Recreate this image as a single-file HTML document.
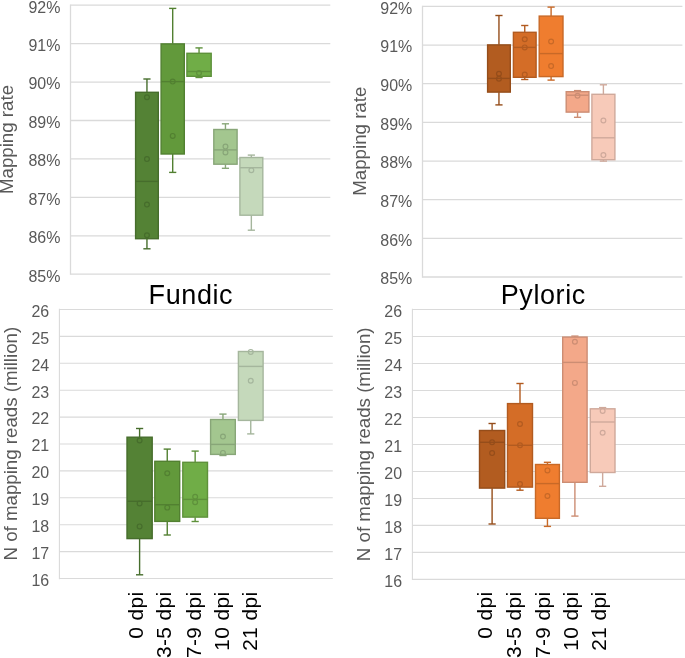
<!DOCTYPE html>
<html><head><meta charset="utf-8"><style>
html,body{margin:0;padding:0;background:#fff;}
svg{display:block;font-family:"Liberation Sans", sans-serif;will-change:transform;}
</style></head><body>
<svg width="685" height="658" viewBox="0 0 685 658">
<rect width="685" height="658" fill="#fff"/>
<line x1="70.5" y1="5.20" x2="330.3" y2="5.20" stroke="#dadada" stroke-width="1.3"/>
<text transform="translate(60.4,12.55) scale(0.94,1)" text-anchor="end" font-size="17" fill="#595959">92%</text>
<line x1="70.5" y1="43.63" x2="330.3" y2="43.63" stroke="#dadada" stroke-width="1.3"/>
<text transform="translate(60.4,50.98) scale(0.94,1)" text-anchor="end" font-size="17" fill="#595959">91%</text>
<line x1="70.5" y1="82.06" x2="330.3" y2="82.06" stroke="#dadada" stroke-width="1.3"/>
<text transform="translate(60.4,89.41) scale(0.94,1)" text-anchor="end" font-size="17" fill="#595959">90%</text>
<line x1="70.5" y1="120.49" x2="330.3" y2="120.49" stroke="#dadada" stroke-width="1.3"/>
<text transform="translate(60.4,127.84) scale(0.94,1)" text-anchor="end" font-size="17" fill="#595959">89%</text>
<line x1="70.5" y1="158.92" x2="330.3" y2="158.92" stroke="#dadada" stroke-width="1.3"/>
<text transform="translate(60.4,166.27) scale(0.94,1)" text-anchor="end" font-size="17" fill="#595959">88%</text>
<line x1="70.5" y1="197.35" x2="330.3" y2="197.35" stroke="#dadada" stroke-width="1.3"/>
<text transform="translate(60.4,204.70) scale(0.94,1)" text-anchor="end" font-size="17" fill="#595959">87%</text>
<line x1="70.5" y1="235.78" x2="330.3" y2="235.78" stroke="#dadada" stroke-width="1.3"/>
<text transform="translate(60.4,243.13) scale(0.94,1)" text-anchor="end" font-size="17" fill="#595959">86%</text>
<line x1="70.5" y1="274.21" x2="330.3" y2="274.21" stroke="#dadada" stroke-width="1.3"/>
<text transform="translate(60.4,281.56) scale(0.94,1)" text-anchor="end" font-size="17" fill="#595959">85%</text>
<line x1="70.5" y1="4.55" x2="70.5" y2="274.86" stroke="#dadada" stroke-width="1.3"/>
<line x1="146.95" y1="79.00" x2="146.95" y2="92.20" stroke="#466d2c" stroke-width="1.4"/>
<line x1="143.35" y1="79.00" x2="150.55" y2="79.00" stroke="#466d2c" stroke-width="1.4"/>
<line x1="146.95" y1="238.80" x2="146.95" y2="248.80" stroke="#466d2c" stroke-width="1.4"/>
<line x1="143.35" y1="248.80" x2="150.55" y2="248.80" stroke="#466d2c" stroke-width="1.4"/>
<rect x="135.60" y="92.30" width="22.70" height="146.40" fill="#548235" stroke="#466d2c" stroke-width="1.4"/>
<line x1="135.70" y1="181.40" x2="158.20" y2="181.40" stroke="#466d2c" stroke-width="1.4"/>
<circle cx="146.95" cy="97.20" r="2.4" fill="none" stroke="#466d2c" stroke-width="1.2"/>
<circle cx="146.95" cy="159.10" r="2.4" fill="none" stroke="#466d2c" stroke-width="1.2"/>
<circle cx="146.95" cy="204.60" r="2.4" fill="none" stroke="#466d2c" stroke-width="1.2"/>
<circle cx="146.95" cy="235.20" r="2.4" fill="none" stroke="#466d2c" stroke-width="1.2"/>
<line x1="172.70" y1="8.40" x2="172.70" y2="43.80" stroke="#528031" stroke-width="1.4"/>
<line x1="169.10" y1="8.40" x2="176.30" y2="8.40" stroke="#528031" stroke-width="1.4"/>
<line x1="172.70" y1="154.10" x2="172.70" y2="172.40" stroke="#528031" stroke-width="1.4"/>
<line x1="169.10" y1="172.40" x2="176.30" y2="172.40" stroke="#528031" stroke-width="1.4"/>
<rect x="161.10" y="43.90" width="23.20" height="110.10" fill="#62993b" stroke="#528031" stroke-width="1.4"/>
<line x1="161.20" y1="81.60" x2="184.20" y2="81.60" stroke="#528031" stroke-width="1.4"/>
<circle cx="172.70" cy="81.60" r="2.4" fill="none" stroke="#528031" stroke-width="1.2"/>
<circle cx="172.70" cy="135.90" r="2.4" fill="none" stroke="#528031" stroke-width="1.2"/>
<line x1="199.05" y1="47.90" x2="199.05" y2="53.20" stroke="#5e913b" stroke-width="1.4"/>
<line x1="195.45" y1="47.90" x2="202.65" y2="47.90" stroke="#5e913b" stroke-width="1.4"/>
<line x1="199.05" y1="76.40" x2="199.05" y2="77.50" stroke="#5e913b" stroke-width="1.4"/>
<line x1="195.45" y1="77.50" x2="202.65" y2="77.50" stroke="#5e913b" stroke-width="1.4"/>
<rect x="186.90" y="53.30" width="24.30" height="23.00" fill="#70ad47" stroke="#5e913b" stroke-width="1.4"/>
<line x1="187.00" y1="71.50" x2="211.10" y2="71.50" stroke="#5e913b" stroke-width="1.4"/>
<circle cx="199.05" cy="73.00" r="2.4" fill="none" stroke="#5e913b" stroke-width="1.2"/>
<line x1="225.45" y1="123.80" x2="225.45" y2="129.40" stroke="#88a678" stroke-width="1.4"/>
<line x1="221.85" y1="123.80" x2="229.05" y2="123.80" stroke="#88a678" stroke-width="1.4"/>
<line x1="225.45" y1="164.30" x2="225.45" y2="168.30" stroke="#88a678" stroke-width="1.4"/>
<line x1="221.85" y1="168.30" x2="229.05" y2="168.30" stroke="#88a678" stroke-width="1.4"/>
<rect x="213.80" y="129.50" width="23.30" height="34.70" fill="#a3c68f" stroke="#88a678" stroke-width="1.4"/>
<line x1="213.90" y1="149.90" x2="237.00" y2="149.90" stroke="#88a678" stroke-width="1.4"/>
<circle cx="225.45" cy="146.60" r="2.4" fill="none" stroke="#88a678" stroke-width="1.2"/>
<circle cx="225.45" cy="152.50" r="2.4" fill="none" stroke="#88a678" stroke-width="1.2"/>
<line x1="251.35" y1="155.10" x2="251.35" y2="157.40" stroke="#a5b69d" stroke-width="1.4"/>
<line x1="247.75" y1="155.10" x2="254.95" y2="155.10" stroke="#a5b69d" stroke-width="1.4"/>
<line x1="251.35" y1="215.30" x2="251.35" y2="230.20" stroke="#a5b69d" stroke-width="1.4"/>
<line x1="247.75" y1="230.20" x2="254.95" y2="230.20" stroke="#a5b69d" stroke-width="1.4"/>
<rect x="239.90" y="157.50" width="22.90" height="57.70" fill="#c5d9bb" stroke="#a5b69d" stroke-width="1.4"/>
<line x1="240.00" y1="167.70" x2="262.70" y2="167.70" stroke="#a5b69d" stroke-width="1.4"/>
<circle cx="251.35" cy="170.30" r="2.4" fill="none" stroke="#a5b69d" stroke-width="1.2"/>
<line x1="422.5" y1="6.40" x2="682.4" y2="6.40" stroke="#dadada" stroke-width="1.3"/>
<text transform="translate(412.3,13.60) scale(0.94,1)" text-anchor="end" font-size="17" fill="#595959">92%</text>
<line x1="422.5" y1="45.06" x2="682.4" y2="45.06" stroke="#dadada" stroke-width="1.3"/>
<text transform="translate(412.3,52.26) scale(0.94,1)" text-anchor="end" font-size="17" fill="#595959">91%</text>
<line x1="422.5" y1="83.72" x2="682.4" y2="83.72" stroke="#dadada" stroke-width="1.3"/>
<text transform="translate(412.3,90.92) scale(0.94,1)" text-anchor="end" font-size="17" fill="#595959">90%</text>
<line x1="422.5" y1="122.38" x2="682.4" y2="122.38" stroke="#dadada" stroke-width="1.3"/>
<text transform="translate(412.3,129.58) scale(0.94,1)" text-anchor="end" font-size="17" fill="#595959">89%</text>
<line x1="422.5" y1="161.04" x2="682.4" y2="161.04" stroke="#dadada" stroke-width="1.3"/>
<text transform="translate(412.3,168.24) scale(0.94,1)" text-anchor="end" font-size="17" fill="#595959">88%</text>
<line x1="422.5" y1="199.70" x2="682.4" y2="199.70" stroke="#dadada" stroke-width="1.3"/>
<text transform="translate(412.3,206.90) scale(0.94,1)" text-anchor="end" font-size="17" fill="#595959">87%</text>
<line x1="422.5" y1="238.36" x2="682.4" y2="238.36" stroke="#dadada" stroke-width="1.3"/>
<text transform="translate(412.3,245.56) scale(0.94,1)" text-anchor="end" font-size="17" fill="#595959">86%</text>
<line x1="422.5" y1="277.02" x2="682.4" y2="277.02" stroke="#dadada" stroke-width="1.3"/>
<text transform="translate(412.3,284.22) scale(0.94,1)" text-anchor="end" font-size="17" fill="#595959">85%</text>
<line x1="422.5" y1="5.75" x2="422.5" y2="277.67" stroke="#dadada" stroke-width="1.3"/>
<line x1="498.95" y1="15.50" x2="498.95" y2="44.80" stroke="#954d1a" stroke-width="1.4"/>
<line x1="495.35" y1="15.50" x2="502.55" y2="15.50" stroke="#954d1a" stroke-width="1.4"/>
<line x1="498.95" y1="92.20" x2="498.95" y2="104.90" stroke="#954d1a" stroke-width="1.4"/>
<line x1="495.35" y1="104.90" x2="502.55" y2="104.90" stroke="#954d1a" stroke-width="1.4"/>
<rect x="487.60" y="44.90" width="22.70" height="47.20" fill="#b25c20" stroke="#954d1a" stroke-width="1.4"/>
<line x1="487.70" y1="78.40" x2="510.20" y2="78.40" stroke="#954d1a" stroke-width="1.4"/>
<circle cx="498.95" cy="73.80" r="2.4" fill="none" stroke="#954d1a" stroke-width="1.2"/>
<circle cx="498.95" cy="78.80" r="2.4" fill="none" stroke="#954d1a" stroke-width="1.2"/>
<line x1="524.75" y1="25.50" x2="524.75" y2="32.20" stroke="#b25b20" stroke-width="1.4"/>
<line x1="521.15" y1="25.50" x2="528.35" y2="25.50" stroke="#b25b20" stroke-width="1.4"/>
<line x1="524.75" y1="77.40" x2="524.75" y2="79.50" stroke="#b25b20" stroke-width="1.4"/>
<line x1="521.15" y1="79.50" x2="528.35" y2="79.50" stroke="#b25b20" stroke-width="1.4"/>
<rect x="513.40" y="32.30" width="22.70" height="45.00" fill="#d46d27" stroke="#b25b20" stroke-width="1.4"/>
<line x1="513.50" y1="47.40" x2="536.00" y2="47.40" stroke="#b25b20" stroke-width="1.4"/>
<circle cx="524.75" cy="39.20" r="2.4" fill="none" stroke="#b25b20" stroke-width="1.2"/>
<circle cx="524.75" cy="47.40" r="2.4" fill="none" stroke="#b25b20" stroke-width="1.2"/>
<circle cx="524.75" cy="74.50" r="2.4" fill="none" stroke="#b25b20" stroke-width="1.2"/>
<line x1="551.10" y1="7.10" x2="551.10" y2="16.00" stroke="#c86927" stroke-width="1.4"/>
<line x1="547.50" y1="7.10" x2="554.70" y2="7.10" stroke="#c86927" stroke-width="1.4"/>
<line x1="551.10" y1="76.70" x2="551.10" y2="80.10" stroke="#c86927" stroke-width="1.4"/>
<line x1="547.50" y1="80.10" x2="554.70" y2="80.10" stroke="#c86927" stroke-width="1.4"/>
<rect x="539.20" y="16.10" width="23.80" height="60.50" fill="#ef7d2f" stroke="#c86927" stroke-width="1.4"/>
<line x1="539.30" y1="53.60" x2="562.90" y2="53.60" stroke="#c86927" stroke-width="1.4"/>
<circle cx="551.10" cy="41.50" r="2.4" fill="none" stroke="#c86927" stroke-width="1.2"/>
<circle cx="551.10" cy="66.10" r="2.4" fill="none" stroke="#c86927" stroke-width="1.2"/>
<line x1="577.55" y1="90.60" x2="577.55" y2="91.60" stroke="#cc8d73" stroke-width="1.4"/>
<line x1="573.95" y1="90.60" x2="581.15" y2="90.60" stroke="#cc8d73" stroke-width="1.4"/>
<line x1="577.55" y1="112.20" x2="577.55" y2="117.30" stroke="#cc8d73" stroke-width="1.4"/>
<line x1="573.95" y1="117.30" x2="581.15" y2="117.30" stroke="#cc8d73" stroke-width="1.4"/>
<rect x="566.20" y="91.70" width="22.70" height="20.40" fill="#f3a889" stroke="#cc8d73" stroke-width="1.4"/>
<line x1="566.30" y1="95.20" x2="588.80" y2="95.20" stroke="#cc8d73" stroke-width="1.4"/>
<circle cx="577.55" cy="95.70" r="2.4" fill="none" stroke="#cc8d73" stroke-width="1.2"/>
<line x1="603.40" y1="84.80" x2="603.40" y2="94.20" stroke="#cfa99b" stroke-width="1.4"/>
<line x1="599.80" y1="84.80" x2="607.00" y2="84.80" stroke="#cfa99b" stroke-width="1.4"/>
<line x1="603.40" y1="159.80" x2="603.40" y2="161.10" stroke="#cfa99b" stroke-width="1.4"/>
<line x1="599.80" y1="161.10" x2="607.00" y2="161.10" stroke="#cfa99b" stroke-width="1.4"/>
<rect x="591.90" y="94.30" width="23.00" height="65.40" fill="#f7cab9" stroke="#cfa99b" stroke-width="1.4"/>
<line x1="592.00" y1="137.80" x2="614.80" y2="137.80" stroke="#cfa99b" stroke-width="1.4"/>
<circle cx="603.40" cy="120.50" r="2.4" fill="none" stroke="#cfa99b" stroke-width="1.2"/>
<circle cx="603.40" cy="155.10" r="2.4" fill="none" stroke="#cfa99b" stroke-width="1.2"/>
<line x1="59.4" y1="309.50" x2="332.8" y2="309.50" stroke="#dadada" stroke-width="1.1"/>
<text transform="translate(49.2,316.80) scale(0.94,1)" text-anchor="end" font-size="17" fill="#595959">26</text>
<line x1="59.4" y1="336.40" x2="332.8" y2="336.40" stroke="#dadada" stroke-width="1.1"/>
<text transform="translate(49.2,343.70) scale(0.94,1)" text-anchor="end" font-size="17" fill="#595959">25</text>
<line x1="59.4" y1="363.30" x2="332.8" y2="363.30" stroke="#dadada" stroke-width="1.1"/>
<text transform="translate(49.2,370.60) scale(0.94,1)" text-anchor="end" font-size="17" fill="#595959">24</text>
<line x1="59.4" y1="390.20" x2="332.8" y2="390.20" stroke="#dadada" stroke-width="1.1"/>
<text transform="translate(49.2,397.50) scale(0.94,1)" text-anchor="end" font-size="17" fill="#595959">23</text>
<line x1="59.4" y1="417.10" x2="332.8" y2="417.10" stroke="#dadada" stroke-width="1.1"/>
<text transform="translate(49.2,424.40) scale(0.94,1)" text-anchor="end" font-size="17" fill="#595959">22</text>
<line x1="59.4" y1="444.00" x2="332.8" y2="444.00" stroke="#dadada" stroke-width="1.1"/>
<text transform="translate(49.2,451.30) scale(0.94,1)" text-anchor="end" font-size="17" fill="#595959">21</text>
<line x1="59.4" y1="470.90" x2="332.8" y2="470.90" stroke="#dadada" stroke-width="1.1"/>
<text transform="translate(49.2,478.20) scale(0.94,1)" text-anchor="end" font-size="17" fill="#595959">20</text>
<line x1="59.4" y1="497.80" x2="332.8" y2="497.80" stroke="#dadada" stroke-width="1.1"/>
<text transform="translate(49.2,505.10) scale(0.94,1)" text-anchor="end" font-size="17" fill="#595959">19</text>
<line x1="59.4" y1="524.70" x2="332.8" y2="524.70" stroke="#dadada" stroke-width="1.1"/>
<text transform="translate(49.2,532.00) scale(0.94,1)" text-anchor="end" font-size="17" fill="#595959">18</text>
<line x1="59.4" y1="551.60" x2="332.8" y2="551.60" stroke="#dadada" stroke-width="1.1"/>
<text transform="translate(49.2,558.90) scale(0.94,1)" text-anchor="end" font-size="17" fill="#595959">17</text>
<line x1="59.4" y1="578.50" x2="332.8" y2="578.50" stroke="#dadada" stroke-width="1.1"/>
<text transform="translate(49.2,585.80) scale(0.94,1)" text-anchor="end" font-size="17" fill="#595959">16</text>
<line x1="59.4" y1="308.85" x2="59.4" y2="579.15" stroke="#dadada" stroke-width="1.1"/>
<line x1="139.60" y1="428.50" x2="139.60" y2="437.10" stroke="#466d2c" stroke-width="1.4"/>
<line x1="136.00" y1="428.50" x2="143.20" y2="428.50" stroke="#466d2c" stroke-width="1.4"/>
<line x1="139.60" y1="538.70" x2="139.60" y2="574.80" stroke="#466d2c" stroke-width="1.4"/>
<line x1="136.00" y1="574.80" x2="143.20" y2="574.80" stroke="#466d2c" stroke-width="1.4"/>
<rect x="127.00" y="437.20" width="25.20" height="101.40" fill="#548235" stroke="#466d2c" stroke-width="1.4"/>
<line x1="127.10" y1="501.30" x2="152.10" y2="501.30" stroke="#466d2c" stroke-width="1.4"/>
<circle cx="139.60" cy="440.50" r="2.4" fill="none" stroke="#466d2c" stroke-width="1.2"/>
<circle cx="139.60" cy="503.40" r="2.4" fill="none" stroke="#466d2c" stroke-width="1.2"/>
<circle cx="139.60" cy="526.40" r="2.4" fill="none" stroke="#466d2c" stroke-width="1.2"/>
<line x1="167.25" y1="449.10" x2="167.25" y2="461.20" stroke="#528031" stroke-width="1.4"/>
<line x1="163.65" y1="449.10" x2="170.85" y2="449.10" stroke="#528031" stroke-width="1.4"/>
<line x1="167.25" y1="521.50" x2="167.25" y2="535.00" stroke="#528031" stroke-width="1.4"/>
<line x1="163.65" y1="535.00" x2="170.85" y2="535.00" stroke="#528031" stroke-width="1.4"/>
<rect x="154.80" y="461.30" width="24.90" height="60.10" fill="#62993b" stroke="#528031" stroke-width="1.4"/>
<line x1="154.90" y1="504.70" x2="179.60" y2="504.70" stroke="#528031" stroke-width="1.4"/>
<circle cx="167.25" cy="473.20" r="2.4" fill="none" stroke="#528031" stroke-width="1.2"/>
<circle cx="167.25" cy="507.60" r="2.4" fill="none" stroke="#528031" stroke-width="1.2"/>
<line x1="195.15" y1="451.10" x2="195.15" y2="462.20" stroke="#5e913b" stroke-width="1.4"/>
<line x1="191.55" y1="451.10" x2="198.75" y2="451.10" stroke="#5e913b" stroke-width="1.4"/>
<line x1="195.15" y1="517.20" x2="195.15" y2="521.50" stroke="#5e913b" stroke-width="1.4"/>
<line x1="191.55" y1="521.50" x2="198.75" y2="521.50" stroke="#5e913b" stroke-width="1.4"/>
<rect x="182.80" y="462.30" width="24.70" height="54.80" fill="#70ad47" stroke="#5e913b" stroke-width="1.4"/>
<line x1="182.90" y1="499.40" x2="207.40" y2="499.40" stroke="#5e913b" stroke-width="1.4"/>
<circle cx="195.15" cy="496.80" r="2.4" fill="none" stroke="#5e913b" stroke-width="1.2"/>
<circle cx="195.15" cy="502.30" r="2.4" fill="none" stroke="#5e913b" stroke-width="1.2"/>
<line x1="222.95" y1="414.10" x2="222.95" y2="419.40" stroke="#88a678" stroke-width="1.4"/>
<line x1="219.35" y1="414.10" x2="226.55" y2="414.10" stroke="#88a678" stroke-width="1.4"/>
<line x1="222.95" y1="454.50" x2="222.95" y2="455.50" stroke="#88a678" stroke-width="1.4"/>
<line x1="219.35" y1="455.50" x2="226.55" y2="455.50" stroke="#88a678" stroke-width="1.4"/>
<rect x="210.60" y="419.50" width="24.70" height="34.90" fill="#a3c68f" stroke="#88a678" stroke-width="1.4"/>
<line x1="210.70" y1="444.40" x2="235.20" y2="444.40" stroke="#88a678" stroke-width="1.4"/>
<circle cx="222.95" cy="436.60" r="2.4" fill="none" stroke="#88a678" stroke-width="1.2"/>
<circle cx="222.95" cy="452.90" r="2.4" fill="none" stroke="#88a678" stroke-width="1.2"/>
<line x1="250.75" y1="420.50" x2="250.75" y2="433.90" stroke="#a5b69d" stroke-width="1.4"/>
<line x1="247.15" y1="433.90" x2="254.35" y2="433.90" stroke="#a5b69d" stroke-width="1.4"/>
<rect x="238.40" y="351.50" width="24.70" height="68.90" fill="#c5d9bb" stroke="#a5b69d" stroke-width="1.4"/>
<line x1="238.50" y1="366.40" x2="263.00" y2="366.40" stroke="#a5b69d" stroke-width="1.4"/>
<circle cx="250.75" cy="351.90" r="2.4" fill="none" stroke="#a5b69d" stroke-width="1.2"/>
<circle cx="250.75" cy="380.70" r="2.4" fill="none" stroke="#a5b69d" stroke-width="1.2"/>
<line x1="412.4" y1="309.50" x2="686" y2="309.50" stroke="#dadada" stroke-width="1.1"/>
<text transform="translate(402.1,316.80) scale(0.94,1)" text-anchor="end" font-size="17" fill="#595959">26</text>
<line x1="412.4" y1="336.49" x2="686" y2="336.49" stroke="#dadada" stroke-width="1.1"/>
<text transform="translate(402.1,343.79) scale(0.94,1)" text-anchor="end" font-size="17" fill="#595959">25</text>
<line x1="412.4" y1="363.48" x2="686" y2="363.48" stroke="#dadada" stroke-width="1.1"/>
<text transform="translate(402.1,370.78) scale(0.94,1)" text-anchor="end" font-size="17" fill="#595959">24</text>
<line x1="412.4" y1="390.47" x2="686" y2="390.47" stroke="#dadada" stroke-width="1.1"/>
<text transform="translate(402.1,397.77) scale(0.94,1)" text-anchor="end" font-size="17" fill="#595959">23</text>
<line x1="412.4" y1="417.46" x2="686" y2="417.46" stroke="#dadada" stroke-width="1.1"/>
<text transform="translate(402.1,424.76) scale(0.94,1)" text-anchor="end" font-size="17" fill="#595959">22</text>
<line x1="412.4" y1="444.45" x2="686" y2="444.45" stroke="#dadada" stroke-width="1.1"/>
<text transform="translate(402.1,451.75) scale(0.94,1)" text-anchor="end" font-size="17" fill="#595959">21</text>
<line x1="412.4" y1="471.44" x2="686" y2="471.44" stroke="#dadada" stroke-width="1.1"/>
<text transform="translate(402.1,478.74) scale(0.94,1)" text-anchor="end" font-size="17" fill="#595959">20</text>
<line x1="412.4" y1="498.43" x2="686" y2="498.43" stroke="#dadada" stroke-width="1.1"/>
<text transform="translate(402.1,505.73) scale(0.94,1)" text-anchor="end" font-size="17" fill="#595959">19</text>
<line x1="412.4" y1="525.42" x2="686" y2="525.42" stroke="#dadada" stroke-width="1.1"/>
<text transform="translate(402.1,532.72) scale(0.94,1)" text-anchor="end" font-size="17" fill="#595959">18</text>
<line x1="412.4" y1="552.41" x2="686" y2="552.41" stroke="#dadada" stroke-width="1.1"/>
<text transform="translate(402.1,559.71) scale(0.94,1)" text-anchor="end" font-size="17" fill="#595959">17</text>
<line x1="412.4" y1="579.40" x2="686" y2="579.40" stroke="#dadada" stroke-width="1.1"/>
<text transform="translate(402.1,586.70) scale(0.94,1)" text-anchor="end" font-size="17" fill="#595959">16</text>
<line x1="412.4" y1="308.85" x2="412.4" y2="580.05" stroke="#dadada" stroke-width="1.1"/>
<line x1="492.10" y1="423.50" x2="492.10" y2="430.40" stroke="#954d1a" stroke-width="1.4"/>
<line x1="488.50" y1="423.50" x2="495.70" y2="423.50" stroke="#954d1a" stroke-width="1.4"/>
<line x1="492.10" y1="488.20" x2="492.10" y2="524.00" stroke="#954d1a" stroke-width="1.4"/>
<line x1="488.50" y1="524.00" x2="495.70" y2="524.00" stroke="#954d1a" stroke-width="1.4"/>
<rect x="479.50" y="430.50" width="25.20" height="57.60" fill="#b25c20" stroke="#954d1a" stroke-width="1.4"/>
<line x1="479.60" y1="442.30" x2="504.60" y2="442.30" stroke="#954d1a" stroke-width="1.4"/>
<circle cx="492.10" cy="442.30" r="2.4" fill="none" stroke="#954d1a" stroke-width="1.2"/>
<circle cx="492.10" cy="453.10" r="2.4" fill="none" stroke="#954d1a" stroke-width="1.2"/>
<line x1="520.00" y1="383.50" x2="520.00" y2="403.50" stroke="#b25b20" stroke-width="1.4"/>
<line x1="516.40" y1="383.50" x2="523.60" y2="383.50" stroke="#b25b20" stroke-width="1.4"/>
<line x1="520.00" y1="487.20" x2="520.00" y2="490.20" stroke="#b25b20" stroke-width="1.4"/>
<line x1="516.40" y1="490.20" x2="523.60" y2="490.20" stroke="#b25b20" stroke-width="1.4"/>
<rect x="507.50" y="403.60" width="25.00" height="83.50" fill="#d46d27" stroke="#b25b20" stroke-width="1.4"/>
<line x1="507.60" y1="445.30" x2="532.40" y2="445.30" stroke="#b25b20" stroke-width="1.4"/>
<circle cx="520.00" cy="424.00" r="2.4" fill="none" stroke="#b25b20" stroke-width="1.2"/>
<circle cx="520.00" cy="445.30" r="2.4" fill="none" stroke="#b25b20" stroke-width="1.2"/>
<circle cx="520.00" cy="484.00" r="2.4" fill="none" stroke="#b25b20" stroke-width="1.2"/>
<line x1="547.45" y1="462.30" x2="547.45" y2="464.40" stroke="#c86927" stroke-width="1.4"/>
<line x1="543.85" y1="462.30" x2="551.05" y2="462.30" stroke="#c86927" stroke-width="1.4"/>
<line x1="547.45" y1="518.40" x2="547.45" y2="526.40" stroke="#c86927" stroke-width="1.4"/>
<line x1="543.85" y1="526.40" x2="551.05" y2="526.40" stroke="#c86927" stroke-width="1.4"/>
<rect x="535.50" y="464.50" width="23.90" height="53.80" fill="#ef7d2f" stroke="#c86927" stroke-width="1.4"/>
<line x1="535.60" y1="483.60" x2="559.30" y2="483.60" stroke="#c86927" stroke-width="1.4"/>
<circle cx="547.45" cy="470.40" r="2.4" fill="none" stroke="#c86927" stroke-width="1.2"/>
<circle cx="547.45" cy="496.00" r="2.4" fill="none" stroke="#c86927" stroke-width="1.2"/>
<line x1="574.90" y1="336.10" x2="574.90" y2="337.00" stroke="#cc8d73" stroke-width="1.4"/>
<line x1="571.30" y1="336.10" x2="578.50" y2="336.10" stroke="#cc8d73" stroke-width="1.4"/>
<line x1="574.90" y1="482.40" x2="574.90" y2="516.10" stroke="#cc8d73" stroke-width="1.4"/>
<line x1="571.30" y1="516.10" x2="578.50" y2="516.10" stroke="#cc8d73" stroke-width="1.4"/>
<rect x="562.70" y="337.10" width="24.40" height="145.20" fill="#f3a889" stroke="#cc8d73" stroke-width="1.4"/>
<line x1="562.80" y1="362.40" x2="587.00" y2="362.40" stroke="#cc8d73" stroke-width="1.4"/>
<circle cx="574.90" cy="341.70" r="2.4" fill="none" stroke="#cc8d73" stroke-width="1.2"/>
<circle cx="574.90" cy="382.90" r="2.4" fill="none" stroke="#cc8d73" stroke-width="1.2"/>
<line x1="602.65" y1="407.60" x2="602.65" y2="408.70" stroke="#cfa99b" stroke-width="1.4"/>
<line x1="599.05" y1="407.60" x2="606.25" y2="407.60" stroke="#cfa99b" stroke-width="1.4"/>
<line x1="602.65" y1="472.60" x2="602.65" y2="486.30" stroke="#cfa99b" stroke-width="1.4"/>
<line x1="599.05" y1="486.30" x2="606.25" y2="486.30" stroke="#cfa99b" stroke-width="1.4"/>
<rect x="590.30" y="408.80" width="24.70" height="63.70" fill="#f7cab9" stroke="#cfa99b" stroke-width="1.4"/>
<line x1="590.40" y1="422.00" x2="614.90" y2="422.00" stroke="#cfa99b" stroke-width="1.4"/>
<circle cx="602.65" cy="410.90" r="2.4" fill="none" stroke="#cfa99b" stroke-width="1.2"/>
<circle cx="602.65" cy="432.70" r="2.4" fill="none" stroke="#cfa99b" stroke-width="1.2"/>
<text transform="translate(13.3,139.5) rotate(-90)" text-anchor="middle" font-size="18.7" fill="#595959">Mapping rate</text>
<text transform="translate(366.2,141.2) rotate(-90)" text-anchor="middle" font-size="18.7" fill="#595959">Mapping rate</text>
<text transform="translate(17.0,443.7) rotate(-90)" text-anchor="middle" font-size="18.7" fill="#595959">N of mapping reads (million)</text>
<text transform="translate(370.0,444.3) rotate(-90)" text-anchor="middle" font-size="18.7" fill="#595959">N of mapping reads (million)</text>
<text x="190.9" y="304.2" text-anchor="middle" font-size="27" letter-spacing="0.6" fill="#000">Fundic</text>
<text x="543.3" y="303.9" text-anchor="middle" font-size="27" letter-spacing="0.6" fill="#000">Pyloric</text>
<text transform="translate(142.6,591.3) rotate(-90)" text-anchor="end" font-size="20.8" letter-spacing="0.45" fill="#000">0 dpi</text>
<text transform="translate(171.4,591.3) rotate(-90)" text-anchor="end" font-size="20.8" letter-spacing="0.45" fill="#000">3-5 dpi</text>
<text transform="translate(200.9,591.3) rotate(-90)" text-anchor="end" font-size="20.8" letter-spacing="0.45" fill="#000">7-9 dpi</text>
<text transform="translate(228.6,591.3) rotate(-90)" text-anchor="end" font-size="20.8" letter-spacing="0.45" fill="#000">10 dpi</text>
<text transform="translate(256.9,591.3) rotate(-90)" text-anchor="end" font-size="20.8" letter-spacing="0.45" fill="#000">21 dpi</text>
<text transform="translate(492.2,591.3) rotate(-90)" text-anchor="end" font-size="20.8" letter-spacing="0.45" fill="#000">0 dpi</text>
<text transform="translate(521.0,591.3) rotate(-90)" text-anchor="end" font-size="20.8" letter-spacing="0.45" fill="#000">3-5 dpi</text>
<text transform="translate(550.2,591.3) rotate(-90)" text-anchor="end" font-size="20.8" letter-spacing="0.45" fill="#000">7-9 dpi</text>
<text transform="translate(578.2,591.3) rotate(-90)" text-anchor="end" font-size="20.8" letter-spacing="0.45" fill="#000">10 dpi</text>
<text transform="translate(606.2,591.3) rotate(-90)" text-anchor="end" font-size="20.8" letter-spacing="0.45" fill="#000">21 dpi</text>
</svg>
</body></html>
